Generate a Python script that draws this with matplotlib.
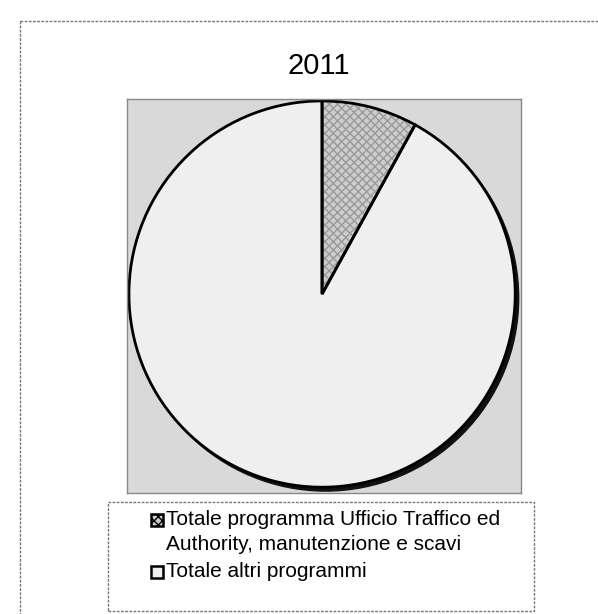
import matplotlib
matplotlib.use("Agg")
import matplotlib.pyplot as plt
from matplotlib.patches import Circle, Rectangle
from matplotlib.lines import Line2D

plt.rcParams['font.family'] = ['Liberation Sans', 'DejaVu Sans']

title = "2011"
labels = ["Totale programma Ufficio Traffico ed\nAuthority, manutenzione e scavi",
          "Totale altri programmi"]
values = [8.0, 92.0]
colors = ["#cdcdcd", "#efefef"]
hatches = ["xxxx", ""]

W, H = 598, 614
fig = plt.figure(figsize=(W / 100, H / 100), dpi=100)
fig.patch.set_facecolor("white")

def fx(x):
    return x / W

def fy(y):
    return 1 - y / H

# outer chart frame (dotted)
fig.add_artist(Line2D([fx(20), 1.0], [fy(21), fy(21)], transform=fig.transFigure,
                      color="#777777", lw=1.0, ls=(0, (2, 1))))
fig.add_artist(Line2D([fx(20), fx(20)], [fy(21), 0.0], transform=fig.transFigure,
                      color="#777777", lw=1.0, ls=(0, (2, 1))))

# plot area
L, T, R, B = 127, 99, 521, 493
ax = fig.add_axes([fx(L), fy(B), (R - L) / W, (B - T) / H])

# shadow
ax.add_patch(Circle((0.018, -0.02), 1.0, color="#111111", zorder=0.5))

wedges, _ = ax.pie(values, colors=colors, startangle=90, counterclock=False,
                   radius=1.0, frame=True, wedgeprops=dict(linewidth=0))
for w, h in zip(wedges, hatches):
    if h:
        w.set_hatch(h)
        w.set_edgecolor("#9a9a9a")
        w.set_linewidth(0)
ax.pie(values, startangle=90, counterclock=False, radius=1.0, frame=True,
       wedgeprops=dict(fill=False, linewidth=2.0, edgecolor="black"))
ax.set_axis_on()
ax.set_facecolor("#d9d9d9")
for s in ax.spines.values():
    s.set_visible(True)
    s.set_color("#888888")
    s.set_linestyle((0, (2, 1)))
    s.set_linewidth(1.0)
ax.set_xticks([])
ax.set_yticks([])
ax.set_xlim(-1.01, 1.03)
ax.set_ylim(-1.03, 1.01)
ax.set_aspect("auto")

fig.text(fx(319), fy(66), title, ha="center", va="center", fontsize=21)

# legend frame
fig.add_artist(Rectangle((fx(108), fy(611)), (534 - 108) / W, (611 - 502) / H,
                         transform=fig.transFigure, fill=False, edgecolor="#777777",
                         lw=1.0, ls=(0, (2, 1))))

# legend entries
baselines = [525, 577]
line_step = 25
for lab, c, h, yb in zip(labels, colors, hatches, baselines):
    fig.add_artist(Rectangle((fx(151), fy(yb + 1)), 12 / W, 12 / H,
                             transform=fig.transFigure, facecolor=c, hatch=h,
                             edgecolor="black", lw=1.8))
    for k, line in enumerate(lab.split("\n")):
        fig.text(fx(166), fy(yb + k * line_step), line, ha="left",
                 va="baseline", fontsize=15)

fig.savefig("out.png", dpi=100)
